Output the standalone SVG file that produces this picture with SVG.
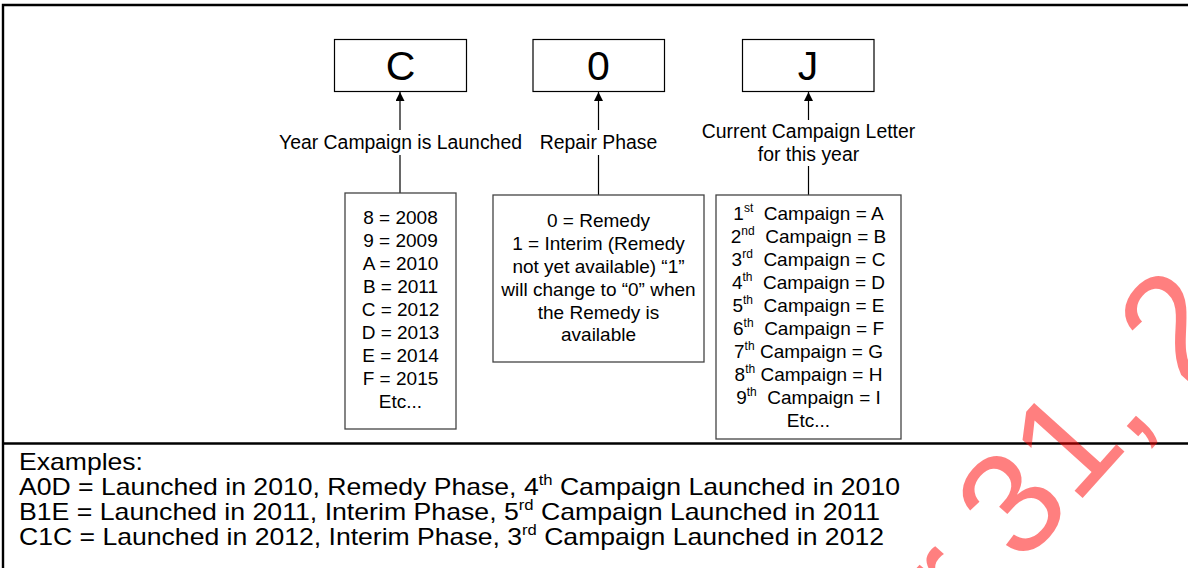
<svg xmlns="http://www.w3.org/2000/svg" width="1188" height="568" viewBox="0 0 1188 568">
<defs>
<style>
text{font-family:"Liberation Sans",Arial,sans-serif;fill:#000}
.big{font-size:41px;text-anchor:middle}
.lbl{font-size:19.4px;text-anchor:middle}
.box{fill:#fff;stroke:#000;stroke-width:1.2}
.lst{fill:#fff;stroke:#444;stroke-width:1.3}
.ln{stroke:#000;stroke-width:1.2;fill:none}
.t{font-size:19px;text-anchor:middle}
.pre{white-space:pre}
.sup{font-size:12px}
.ex{font-size:24px}
.frame{stroke:#000;stroke-width:2.4;fill:none}
.wm{font-size:145px;fill:#ff0000;fill-opacity:0.5}
</style>
<marker id="ah" viewBox="0 0 10 10" refX="10" refY="5" markerWidth="9" markerHeight="9" markerUnits="userSpaceOnUse" orient="auto">
<path d="M0,0 L10,5 L0,10 z" fill="#000"/>
</marker>
</defs>
<rect width="1188" height="568" fill="#fff"/>
<g id="frame">
<path class="frame" d="M3,568 V5 H1188"/>
<path class="frame" d="M3,443.5 H1188"/>
</g>
<g id="connectors">
<path class="ln" d="M400,130 V92" marker-end="url(#ah)"/>
<path class="ln" d="M400,155 V193"/>
<path class="ln" d="M598.5,130 V92" marker-end="url(#ah)"/>
<path class="ln" d="M598.5,155 V195"/>
<path class="ln" d="M808.5,120 V92" marker-end="url(#ah)"/>
<path class="ln" d="M808.5,166 V195"/>
</g>
<g id="node-C">
<rect class="box" x="334.5" y="39.5" width="132" height="52"/>
<text class="big" x="400.5" y="80">C</text>
</g>
<g id="node-0">
<rect class="box" x="533" y="39.5" width="131.5" height="52"/>
<text class="big" x="598.5" y="80">0</text>
</g>
<g id="node-J">
<rect class="box" x="742.5" y="39.5" width="131.5" height="52"/>
<text class="big" x="808" y="80">J</text>
</g>
<g id="label-year">
<text class="lbl" x="400.5" y="148.5">Year Campaign is Launched</text>
</g>
<g id="label-repair">
<text class="lbl" x="598.5" y="148.5">Repair Phase</text>
</g>
<g id="label-current">
<text class="lbl" x="808.5" y="138">Current Campaign Letter</text>
<text class="lbl" x="808.5" y="161">for this year</text>
</g>
<g id="node-years">
<rect class="lst" x="345" y="193" width="111" height="236"/>
<text class="t" x="400.5" y="224">8 = 2008</text>
<text class="t" x="400.5" y="247">9 = 2009</text>
<text class="t" x="400.5" y="270">A = 2010</text>
<text class="t" x="400.5" y="293">B = 2011</text>
<text class="t" x="400.5" y="316">C = 2012</text>
<text class="t" x="400.5" y="339">D = 2013</text>
<text class="t" x="400.5" y="362">E = 2014</text>
<text class="t" x="400.5" y="385">F = 2015</text>
<text class="t" x="400.5" y="408">Etc...</text>
</g>
<g id="node-phase">
<rect class="lst" x="493" y="195" width="211" height="167"/>
<text class="t" x="598.5" y="227">0 = Remedy</text>
<text class="t" x="598.5" y="250">1 = Interim (Remedy</text>
<text class="t" x="598.5" y="273">not yet available) “1”</text>
<text class="t" x="598.5" y="296">will change to “0” when</text>
<text class="t" x="598.5" y="319">the Remedy is</text>
<text class="t" x="598.5" y="341">available</text>
</g>
<g id="node-letters">
<rect class="lst" x="716" y="195" width="185" height="244"/>
<text class="t pre" xml:space="preserve" x="808.5" y="220">1<tspan class="sup" dy="-8">st</tspan><tspan dy="8">  Campaign = A</tspan></text>
<text class="t pre" xml:space="preserve" x="808.5" y="243">2<tspan class="sup" dy="-8">nd</tspan><tspan dy="8">  Campaign = B</tspan></text>
<text class="t pre" xml:space="preserve" x="808.5" y="266">3<tspan class="sup" dy="-8">rd</tspan><tspan dy="8">  Campaign = C</tspan></text>
<text class="t pre" xml:space="preserve" x="808.5" y="289">4<tspan class="sup" dy="-8">th</tspan><tspan dy="8">  Campaign = D</tspan></text>
<text class="t pre" xml:space="preserve" x="808.5" y="312">5<tspan class="sup" dy="-8">th</tspan><tspan dy="8">  Campaign = E</tspan></text>
<text class="t pre" xml:space="preserve" x="808.5" y="335">6<tspan class="sup" dy="-8">th</tspan><tspan dy="8">  Campaign = F</tspan></text>
<text class="t pre" xml:space="preserve" x="808.5" y="358">7<tspan class="sup" dy="-8">th</tspan><tspan dy="8"> Campaign = G</tspan></text>
<text class="t pre" xml:space="preserve" x="808.5" y="381">8<tspan class="sup" dy="-8">th</tspan><tspan dy="8"> Campaign = H</tspan></text>
<text class="t pre" xml:space="preserve" x="808.5" y="404">9<tspan class="sup" dy="-8">th</tspan><tspan dy="8">  Campaign = I</tspan></text>
<text class="t" x="808.5" y="427">Etc...</text>
</g>
<g id="examples">
<text class="ex" x="19" y="470" textLength="124" lengthAdjust="spacingAndGlyphs">Examples:</text>
<text class="ex" x="19" y="495" textLength="881" lengthAdjust="spacingAndGlyphs">A0D = Launched in 2010, Remedy Phase, 4<tspan font-size="15" dy="-10">th</tspan><tspan dy="10"> Campaign Launched in 2010</tspan></text>
<text class="ex" x="19" y="520" textLength="861" lengthAdjust="spacingAndGlyphs">B1E = Launched in 2011, Interim Phase, 5<tspan font-size="15" dy="-10">rd</tspan><tspan dy="10"> Campaign Launched in 2011</tspan></text>
<text class="ex" x="19" y="545" textLength="865" lengthAdjust="spacingAndGlyphs">C1C = Launched in 2012, Interim Phase, 3<tspan font-size="15" dy="-10">rd</tspan><tspan dy="10"> Campaign Launched in 2012</tspan></text>
</g>
<g id="watermark">
<text class="wm" transform="translate(962,632) rotate(-48)">r 31, 2</text>
</g>
</svg>
